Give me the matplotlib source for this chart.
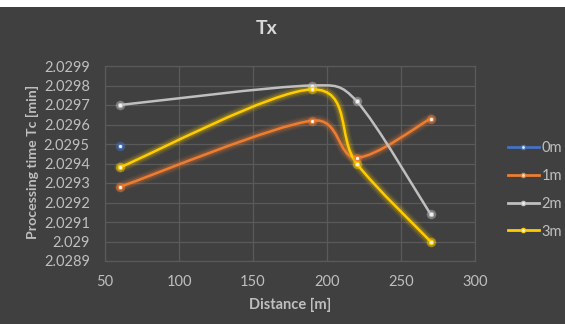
import numpy as np
import matplotlib
matplotlib.use("Agg")
import matplotlib.pyplot as plt
from matplotlib.path import Path
from matplotlib.patches import PathPatch, Rectangle
from matplotlib.lines import Line2D
from matplotlib.ticker import FuncFormatter

plt.rcParams['font.family'] = ['Lato', 'DejaVu Sans']

# Processing time vs. distance for each height
distance = [60, 190, 220, 270]
series_names = ["0m", "1m", "2m", "3m"]
t_0m = [2.02949]
t_1m = [2.02928, 2.02962, 2.02943, 2.02963]
t_2m = [2.02970, 2.02980, 2.02972, 2.02914]
t_3m = [2.02938, 2.02978, 2.02940, 2.02900]
x_ticks = [50, 100, 150, 200, 250, 300]
y_ticks = [2.0289, 2.0290, 2.0291, 2.0292, 2.0293, 2.0294,
           2.0295, 2.0296, 2.0297, 2.0298, 2.0299]

colors = ["#4472C4", "#ED7D31", "#BFBFBF", "#FFCC00"]
bg = "#404040"
grid_c = "#5A5A5A"
text_c = "#BFBFBF"

W, H = 565, 324
fig = plt.figure(figsize=(W / 100, H / 100), dpi=100, facecolor="white")

# dark chart area below a thin white strip
fig.patches.append(Rectangle((0, 0), 1, (H - 7) / H, transform=fig.transFigure,
                             facecolor=bg, edgecolor="none", zorder=-10))

ax = fig.add_axes([105 / W, (H - 261) / H, 370 / W, 195 / H])
ax.set_facecolor(bg)
ax.set_xlim(50, 300)
ax.set_ylim(2.0289, 2.0299)
ax.set_xticks(x_ticks)
ax.set_yticks(y_ticks)
ax.grid(True, color=grid_c, linewidth=0.9)
ax.set_axisbelow(True)
for s in ax.spines.values():
    s.set_color(grid_c)
    s.set_linewidth(0.9)
ax.tick_params(length=0, colors=text_c, labelsize=10.5)
ax.tick_params(axis="x", pad=10)
ax.tick_params(axis="y", pad=11)
ax.yaxis.set_major_formatter(FuncFormatter(lambda v, p: ("%.4f" % v).rstrip("0").rstrip(".")))


def smooth_path(xs, ys):
    """Cubic Bezier path through the points; tangents are built in pixel
    space and each control arm is limited to half its segment length."""
    data = np.column_stack([xs, ys]).astype(float)
    pts = ax.transData.transform(data)
    n = len(pts)
    verts = [pts[0]]
    codes = [Path.MOVETO]
    for i in range(n - 1):
        p0 = pts[i - 1] if i > 0 else pts[i]
        p1 = pts[i]
        p2 = pts[i + 1]
        p3 = pts[i + 2] if i + 2 < n else pts[i + 1]
        half = np.hypot(*(p2 - p1)) / 2.0
        a1 = (p2 - p0) / 6.0
        a2 = (p3 - p1) / 6.0
        for a in (a1, a2):
            ln = np.hypot(*a)
            if ln > half:
                a *= half / ln
        verts += [p1 + a1, p2 - a2, p2]
        codes += [Path.CURVE4] * 3
    verts = ax.transData.inverted().transform(np.array(verts))
    return Path(verts, codes)


def draw_series(xs, ys, color, glow=True):
    if len(xs) > 1:
        path = smooth_path(xs, ys)
        if glow:
            for lw, a in [(8, 0.08), (6, 0.12), (4, 0.2)]:
                ax.add_patch(PathPatch(path, fill=False, edgecolor=color,
                                       linewidth=lw, alpha=a, capstyle="round",
                                       joinstyle="round", zorder=2))
        ax.add_patch(PathPatch(path, fill=False, edgecolor=color, linewidth=1.8,
                               capstyle="round", zorder=3))
    ax.plot(xs, ys, linestyle="none", marker="o", markersize=6, color=color,
            alpha=0.35, zorder=4)
    ax.plot(xs, ys, linestyle="none", marker="o", markersize=3.2,
            markerfacecolor="#F2F2F2", markeredgecolor=color,
            markeredgewidth=0.8, zorder=5)


draw_series(distance[:1], t_0m, colors[0])
draw_series(distance, t_1m, colors[1])
draw_series(distance, t_2m, colors[2], glow=False)
draw_series(distance, t_3m, colors[3])

fig.text(267 / W, 1 - 28 / H, "Tx", ha="center", va="center",
         fontsize=14, fontweight="bold", color="#D9D9D9")
fig.text(290 / W, 1 - 305 / H, "Distance [m]", ha="center", va="center",
         fontsize=10.5, fontweight="bold", color=text_c)
fig.text(32 / W, 1 - 162 / H, "Processing time Tc [min]", ha="center",
         va="center", rotation=90, fontsize=10.2, fontweight="bold", color=text_c)

handles = [Line2D([], [], color=c, linewidth=2, marker="o", markersize=3,
                  markerfacecolor="#F2F2F2", markeredgecolor=c)
           for c in colors]
fig.legend(handles, series_names, loc="upper left",
           bbox_to_anchor=(508 / W, 1 - 141 / H), frameon=False,
           fontsize=10.5, labelcolor=text_c, handlelength=2.1,
           handletextpad=0.2, labelspacing=0.95, borderpad=0,
           borderaxespad=0, numpoints=1)

fig.savefig("out.png", dpi=100, facecolor=fig.get_facecolor())
